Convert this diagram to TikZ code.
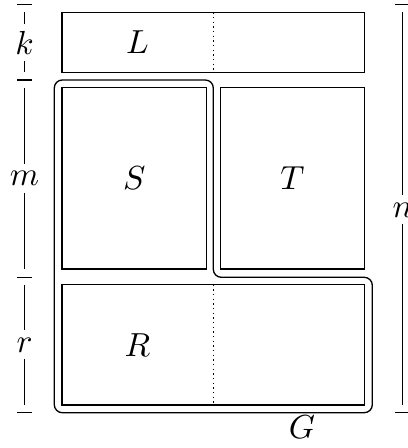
\documentclass[tikz,border=0pt]{standalone}
\begin{document}
\begin{tikzpicture}[x=0.3pt,y=-0.3pt,
  boxline/.style={draw},
  gline/.style={draw, rounded corners=2.4pt},
  sep/.style={densely dotted},
  dimlab/.style={inner sep=2pt, anchor=base},
  boxlab/.style={inner sep=0pt}]
\useasboundingbox (0,0) rectangle (408,448);
% boxes
\draw[boxline] (62,12.3) rectangle (364.3,72.3);
\draw[boxline] (62,87.7) rectangle (206.5,269);
\draw[boxline] (220.5,87.7) rectangle (364.3,269);
\draw[boxline] (62,284.5) rectangle (364.3,405);
% dotted separators
\draw[sep] (213.3,12.3) -- (213.3,72.3);
\draw[sep] (213.3,284.5) -- (213.3,405);
% G outline
\draw[gline] (54.3,200) -- (54.3,80) -- (213.3,80) -- (213.3,277.3) -- (372.3,277.3) -- (372.3,412.7) -- (54.3,412.7) -- cycle;
% labels in boxes
\node[boxlab] (L) at (137.5,42.3) {$L$};
\node[boxlab] (S) at (134.3,178.4) {$S$};
\node[boxlab] (T) at (292.4,178.4) {$T$};
\node[boxlab] (R) at (137.5,344.8) {$R$};
\node[anchor=base, inner sep=0pt] (G) at (302,438) {$G$};
% left dimensions
\draw (17,4.5) -- (32,4.5);
\draw (17,80) -- (32,80);
\draw (17,277.3) -- (32,277.3);
\draw (17,412.7) -- (32,412.7);
\coordinate (k1) at (24.5,12.3); \coordinate (k2) at (24.5,72.3);
\coordinate (m1) at (24.5,87.7); \coordinate (m2) at (24.5,269);
\coordinate (r1) at (24.5,284.5); \coordinate (r2) at (24.5,405);
\node[dimlab] (k) at (24.5,54) {$k$};
\node[dimlab] (m) at (24.5,185.5) {$m$};
\node[dimlab] (r) at (24.5,352) {$r$};
\draw (k1) -- (k); \draw (k) -- (k2);
\draw (m1) -- (m); \draw (m) -- (m2);
\draw (r1) -- (r); \draw (r) -- (r2);
% right dimension
\draw (395,4.5) -- (410,4.5);
\draw (395,412.7) -- (410,412.7);
\coordinate (n1) at (402.7,12.3); \coordinate (n2) at (402.7,405);
\node[dimlab] (n) at (402.7,217) {$n$};
\draw (n1) -- (n); \draw (n) -- (n2);
\end{tikzpicture}
\end{document}
